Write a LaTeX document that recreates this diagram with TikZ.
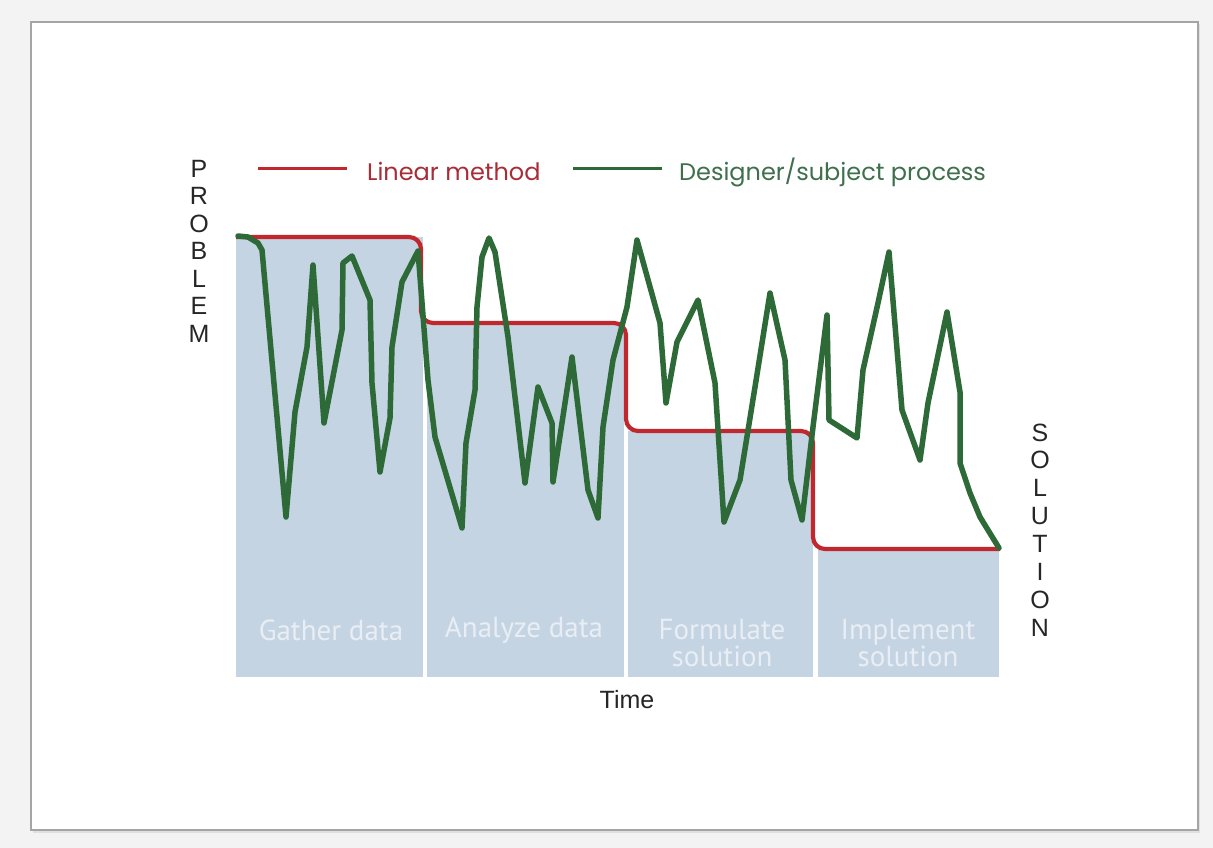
\documentclass[tikz,border=0pt]{standalone}
\usepackage{fontspec}
\setmainfont{Liberation Sans}
\newfontfamily\legendfont{Poppins}
\newfontfamily\stagefont{PT Sans}
\definecolor{bgcol}{RGB}{243,243,243}
\definecolor{framecol}{RGB}{165,165,165}
\definecolor{stagefill}{RGB}{197,212,227}
\definecolor{linred}{RGB}{192,40,45}
\definecolor{redtext}{RGB}{168,45,55}
\definecolor{desgreen}{RGB}{45,106,56}
\definecolor{greentext}{RGB}{62,112,76}
\definecolor{stagetext}{RGB}{232,238,244}
\begin{document}
\begin{tikzpicture}[x=1pt,y=-1pt,
  stagebox/.style={fill=stagefill, draw=none},
  stagelabel/.style={text=stagetext, font=\stagefont\fontsize{29}{27}\selectfont, align=center, inner sep=0pt},
  axisword/.style={font=\fontsize{25}{27.5}\selectfont, text=black!85, align=center, inner sep=0pt},
  redline/.style={draw=linred, line width=4.2pt, rounded corners=12pt},
  greenline/.style={draw=desgreen, line width=5.5pt, line join=round, line cap=round},
  legendtext/.style={font=\legendfont\fontsize{24}{24}\selectfont, anchor=base west, inner sep=0pt}
]
\useasboundingbox (0,0) rectangle (1213,848);
\fill[bgcol] (0,0) rectangle (1213,848);
\fill[black!12] (33,24) rectangle (1200,833);
\filldraw[fill=white, draw=framecol, line width=1.5pt] (31,22) rectangle (1198,830);

% legend
\draw[linred, line width=3pt] (258,169) -- (347,169);
\node[legendtext, text=redtext] (legred) at (367,180) {Linear method};
\draw[desgreen, line width=3pt] (573,169) -- (662,169);
\node[legendtext, text=greentext] (leggreen) at (679,180) {Designer/subject process};

% stage boxes
\fill[stagebox] (236,237) rectangle (423,677);
\fill[stagebox] (427,323) rectangle (624,677);
\fill[stagebox] (628,431) rectangle (813,677);
\fill[stagebox] (818,549) rectangle (999,677);

\node[stagelabel] (s1) at (331,630) {Gather data};
\node[stagelabel] (s2) at (524,630) {Analyze data};
\node[stagelabel] (s3) at (722,643) {Formulate\\solution};
\node[stagelabel] (s4) at (908,643) {Implement\\solution};

% linear method
\draw[redline] (236,237) -- (421,237) -- (421,323) -- (626,323) -- (626,431) -- (813,431) -- (813,549) -- (1000,549);

% designer process
\draw[greenline] (238,236) -- (248,237) -- (258,243) -- (262,250) -- (286,517) -- (295,412) -- (307,347) -- (313,265) -- (324,423) -- (342,330) -- (343,263) -- (352,256) -- (370,300) -- (372,383) -- (380,472) -- (390,418) -- (392,347) -- (402,282) -- (418,251) -- (428,380) -- (435,437) -- (462,528) -- (466,443) -- (475,390) -- (477,307) -- (482,257) -- (489,238) -- (495,252) -- (508,337) -- (525,483) -- (538,387) -- (552,423) -- (553,482) -- (572,357) -- (588,490) -- (598,518) -- (603,427) -- (613,360) -- (627,307) -- (637,240) -- (660,323) -- (666,403) -- (677,342) -- (698,300) -- (715,383) -- (724,522) -- (740,480) -- (755,387) -- (770,293) -- (785,360) -- (791,480) -- (802,520) -- (813,427) -- (827,315) -- (829,420) -- (857,438) -- (863,370) -- (878,303) -- (889,252) -- (902,410) -- (920,460) -- (928,403) -- (947,312) -- (960,392) -- (960,463) -- (970,493) -- (980,517) -- (999,548);

% axes words
\node[axisword] (problem) at (199,251) {P\\R\\O\\B\\L\\E\\M};
\node[axisword, font=\fontsize{25}{27.9}\selectfont] (solution) at (1040,530) {S\\O\\L\\U\\T\\I\\O\\N};
\node[font=\fontsize{25}{25}\selectfont, text=black!85, inner sep=0pt] (time) at (627,700) {Time};
\end{tikzpicture}
\end{document}
